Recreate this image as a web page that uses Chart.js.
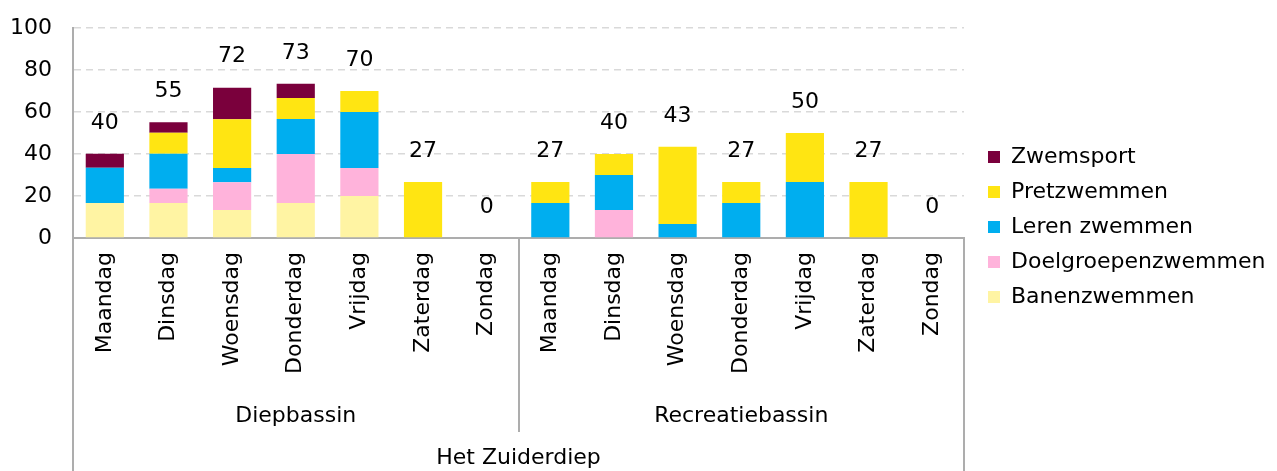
<!DOCTYPE html>
<html>
<head>
<meta charset="utf-8">
<script src="https://cdn.jsdelivr.net/npm/chart.js@4/dist/chart.umd.min.js"></script>
<style>
html,body{margin:0;padding:0;background:#fff;overflow:hidden}
#wrap{width:1277px;height:471px;position:relative}
</style>
</head>
<body>
<div id="wrap"><canvas id="c" width="1277" height="471"></canvas></div>
<script>
// ---- data ----
const days = ['Maandag','Dinsdag','Woensdag','Donderdag','Vrijdag','Zaterdag','Zondag'];
const bassins = ['Diepbassin','Recreatiebassin'];
const locatie = ['Het Zuiderdiep'];
const categories = days.concat(days);
const banenzwemmen       = [16.7,16.7,13.3,16.7,20.0, 0,   0,   0,   0,   0,   0,   0,   0,   0];
const doelgroepenzwemmen = [0,    6.7,13.3,23.3,13.3, 0,   0,   0,  13.3, 0,   0,   0,   0,   0];
const lerenZwemmen       = [16.7,16.7, 6.7,16.7,26.7, 0,   0,  16.7,16.7, 6.7,16.7,26.7, 0,   0];
const pretzwemmen        = [0,   10.0,23.3,10.0,10.0,26.7, 0,  10.0,10.0,36.7,10.0,23.3,26.7, 0];
const zwemsport          = [6.7,  5.0,15.0, 6.7, 0,   0,   0,   0,   0,   0,   0,   0,   0,   0];
const yTicks = [0,20,40,60,80,100];

const FONT = '"DejaVu Sans", sans-serif';
const FS = 22;
const AXIS = '#ADADAD';

const LEG_PAD = 13, BOX = 12;
const PLOT_LEFT = 73, PLOT_RIGHT = 964, PLOT_TOP = 28;

const totalsPlugin = {
  id: 'totals',
  afterDatasetsDraw(chart) {
    const {ctx} = chart;
    const xs = chart.scales.x, ys = chart.scales.y;
    ctx.save();
    ctx.font = FS + 'px ' + FONT;
    ctx.fillStyle = '#000';
    ctx.textAlign = 'center';
    ctx.textBaseline = 'middle';
    categories.forEach((c, i) => {
      let tot = 0;
      chart.data.datasets.forEach(ds => { tot += ds.data[i]; });
      ctx.fillText(String(Math.round(tot)), xs.getPixelForValue(i), ys.getPixelForValue(tot) - 31);
    });
    ctx.restore();
  }
};

// place the legend like the reference
const pinLayout = {
  id: 'pinLayout',
  afterLayout(chart) {
    const lg = chart.legend;
    if (lg) {
      const w = lg.right - lg.left;
      lg.left = 988 - LEG_PAD;
      lg.right = lg.left + w;
      const H = lg.bottom - lg.top;
      const colH = lg.columnSizes && lg.columnSizes[0] ? lg.columnSizes[0].height : 5 * (FS + LEG_PAD);
      const sum = 2 * 146 - LEG_PAD + colH;
      lg.top = (sum - H) / 2;
      lg.bottom = lg.top + H;
    }
  }
};

const sepColor = (ctx) => {
  if (ctx.type !== 'tick') return AXIS;
  return (ctx.index === 0 || ctx.index === 7) ? AXIS : 'rgba(0,0,0,0)';
};

let padTop = PLOT_TOP, padRight = 20;

function build() {
  return new Chart(document.getElementById('c'), {
    type: 'bar',
    data: {
      labels: categories,
      datasets: [
        {label: 'Banenzwemmen', data: banenzwemmen, backgroundColor: '#FFF4A3'},
        {label: 'Doelgroepenzwemmen', data: doelgroepenzwemmen, backgroundColor: '#FFB3DB'},
        {label: 'Leren zwemmen', data: lerenZwemmen, backgroundColor: '#00AEEF'},
        {label: 'Pretzwemmen', data: pretzwemmen, backgroundColor: '#FFE512'},
        {label: 'Zwemsport', data: zwemsport, backgroundColor: '#7A003C'}
      ]
    },
    options: {
      responsive: false,
      animation: false,
      devicePixelRatio: 1,
      layout: {padding: {left: 0, top: padTop, right: padRight, bottom: 0}},
      datasets: {bar: {categoryPercentage: 1, barPercentage: 0.6, borderWidth: 0}},
      plugins: {
        tooltip: {enabled: false},
        title: {display: false},
        legend: {
          position: 'right',
          reverse: true,
          labels: {
            boxWidth: BOX, boxHeight: BOX, padding: LEG_PAD,
            color: '#000',
            font: {family: FONT, size: FS}
          }
        }
      },
      scales: {
        y: {
          stacked: true,
          min: 0, max: 100,
          afterBuildTicks(s) { s.ticks = yTicks.map(v => ({value: v})); },
          afterFit(s) { s.width = PLOT_LEFT; s.paddingTop = 0; s.paddingBottom = 0; },
          grid: {color: '#D9D9D9', lineWidth: 1.5, drawTicks: false},
          border: {display: true, color: AXIS, width: 2, dash: [7, 5]},
          ticks: {color: '#000', padding: 21, font: {family: FONT, size: FS}}
        },
        x: {
          stacked: true,
          position: 'bottom',
          weight: 0,
          offset: true,
          afterFit(s) { s.height = 155; },
          grid: {offset: true, drawOnChartArea: false, drawTicks: true, tickLength: 155,
                 color: sepColor, tickColor: sepColor, lineWidth: 2, tickWidth: 2},
          border: {display: true, color: AXIS, width: 2},
          ticks: {color: '#000', autoSkip: false, minRotation: 90, maxRotation: 90,
                  padding: 14 - 155, font: {family: FONT, size: FS}}
        },
        x2: {
          type: 'category',
          labels: bassins,
          position: 'bottom',
          weight: 1,
          offset: true,
          afterFit(s) { s.height = 39; },
          grid: {offset: true, drawOnChartArea: false, drawTicks: true, tickLength: 39,
                 color: AXIS, lineWidth: 2, tickWidth: 2},
          border: {display: false},
          ticks: {color: '#000', autoSkip: false, maxRotation: 0, minRotation: 0,
                  padding: 10 - 39, font: {family: FONT, size: FS}}
        },
        x3: {
          type: 'category',
          labels: locatie,
          position: 'bottom',
          weight: 2,
          offset: true,
          afterFit(s) { s.height = 39; },
          grid: {offset: true, drawOnChartArea: false, drawTicks: true, tickLength: 39,
                 color: AXIS, lineWidth: 2, tickWidth: 2},
          border: {display: false},
          ticks: {color: '#000', autoSkip: false, maxRotation: 0, minRotation: 0,
                  padding: 13 - 39, font: {family: FONT, size: FS}}
        }
      }
    },
    plugins: [totalsPlugin, pinLayout]
  });
}

// first pass measures, second pass corrects paddings so the plot area matches
let chart = build();
const ca = chart.chartArea;
padTop = Math.max(0, padTop - (ca.top - PLOT_TOP));
padRight = Math.max(0, padRight + (ca.right - PLOT_RIGHT));
chart.destroy();
chart = build();
</script>
</body>
</html>
